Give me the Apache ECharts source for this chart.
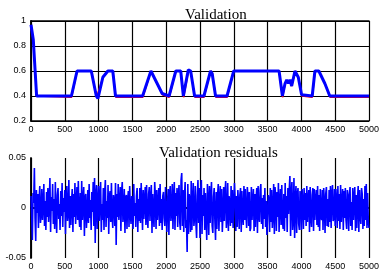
<!DOCTYPE html>
<html>
<head>
<meta charset="utf-8">
<script src="https://cdn.jsdelivr.net/npm/echarts@6/dist/echarts.min.js"></script>
<style>
  html, body { margin: 0; padding: 0; background: #fff; }
  #chart { width: 382px; height: 271px; }
</style>
</head>
<body>
<div id="chart"></div>
<script>
const measX = [0, 34, 59, 83, 100, 598, 681, 892, 966, 990, 1063, 1137, 1210, 1250, 1651, 1774, 1798, 1940, 2043, 2142, 2215, 2254, 2278, 2327, 2362, 2420, 2558, 2656, 2680, 2730, 2900, 2999, 3670, 3719, 3758, 3783, 3807, 3832, 3856, 3905, 3954, 4003, 4160, 4200, 4258, 4347, 4420, 5000];
const measY = [0.97, 0.85, 0.62, 0.40, 0.40, 0.40, 0.60, 0.60, 0.40, 0.38, 0.55, 0.60, 0.60, 0.40, 0.40, 0.60, 0.61, 0.42, 0.40, 0.60, 0.60, 0.40, 0.40, 0.61, 0.60, 0.40, 0.40, 0.60, 0.58, 0.40, 0.40, 0.60, 0.60, 0.40, 0.50, 0.53, 0.50, 0.53, 0.48, 0.60, 0.55, 0.41, 0.40, 0.60, 0.60, 0.50, 0.40, 0.40];

// model output (red)
const modelX = [0, 34, 59, 85, 105, 600, 683, 890, 970, 995, 1065, 1140, 1212, 1255, 1655, 1776, 1800, 1942, 2045, 2144, 2213, 2258, 2280, 2330, 2360, 2425, 2560, 2658, 2683, 2735, 2902, 3000, 3668, 3722, 3760, 3785, 3810, 3835, 3858, 3907, 3956, 4006, 4162, 4202, 4260, 4350, 4424, 5000];
const modelY = [0.95, 0.84, 0.62, 0.40, 0.39, 0.39, 0.60, 0.60, 0.39, 0.38, 0.55, 0.60, 0.60, 0.39, 0.39, 0.60, 0.60, 0.41, 0.39, 0.60, 0.60, 0.39, 0.39, 0.60, 0.60, 0.39, 0.39, 0.60, 0.58, 0.39, 0.39, 0.60, 0.60, 0.39, 0.50, 0.52, 0.50, 0.52, 0.48, 0.60, 0.55, 0.40, 0.39, 0.60, 0.60, 0.50, 0.39, 0.39];

// residuals in thousandths, one value every 10 samples
const residStep = 10;
const residMilli = [
  12, -8, -32, 15, 5, 40, -10, -33, 18, -5, 14, -20, 8, 22, -15, -6, 19, -12, 3, 24, -18, 7, -22, 16, -9,
  20, -14, 6, 30, -24, 11, -3, 24, -16, 9, -21, 26, -7, -25, 13, 20, -11, 4, -22, 17, -8, 25, -19, 10, -4,
  18, -26, 9, 22, -13, -5, 28, -20, 12, -17, 7, 19, -24, 14, -9, 25, -16, 3, 21, -12, 27, -8, -19, 15, -22,
  27, -12, 5, 21, -28, 10, 14, -20, -6, 18, -15, 24, -10, 8, -22, 16, -4, 26, -18, 30, -35, 12, 23, -21, 6,
  22, -13, 9, 26, -24, 4, -12, 20, -22, 15, 28, -19, 7, -10, 23, -26, 11, 17, -14, 25, -8, -20, 13, 6, -18,
  25, -37, 14, -9, 24, -12, 3, 21, -23, 16, 26, -14, -5, 19, -25, 10, 13, -21, 8, 17, -19, 22, -6, -16, 12,
  13, -21, 24, -8, 5, -19, 12, 20, -24, 9, -13, 20, -15, 25, 4, -22, 18, -11, 7, 21, -17, 23, -9, -20, 14,
  21, -13, 8, 23, -25, 14, -6, -19, 26, 11, -21, 18, -12, 3, 20, -18, 24, -15, 9, -22, 12, 16, -10, -18, 21,
  21, -24, 6, 19, -27, 14, 22, -13, -4, 24, -21, 10, 26, -22, 15, -8, 20, -19, 12, 23, -14, -22, 28, 35, -18,
  18, -24, 10, 26, -20, -12, -44, 24, -26, 14, 8, -24, 27, -22, 5, 25, -18, -9, 22, -16, -30, 12, 28, -15, 20,
  -30, 18, 28, -26, 13, -8, 20, -22, 15, -10, -32, 24, 6, -27, 22, -15, 9, 26, -18, -25, 11, 20, -12, -32, 16,
  -21, 12, 24, -23, 7, 22, -14, 19, -24, -6, 21, -13, 15, 27, -20, -9, 25, -23, 12, 5, -18, 22, -15, 18, -20,
  -20, 25, 8, -23, 12, -19, 18, 4, -21, 13, 20, -24, 17, -8, -17, 22, -12, 19, -6, -20, 21, 11, -18, 16, -23,
  -20, 21, -12, 6, 19, -23, 14, -19, 9, 20, -25, 22, -7, -14, 18, 24, -16, 10, -21, 13, -11, 20, -19, 7, -27,
  -27, 13, 8, -24, 20, -14, 18, -20, -5, 24, -26, 21, 11, -23, 16, -9, 25, -24, 6, 19, -17, 23, -13, -21, 14,
  -23, 25, -10, 12, -24, 20, -6, 18, 32, -28, 14, 26, -22, -12, 30, -30, 8, 22, -25, 13, 20, -16, -22, 17, 9,
  -22, 19, 6, -21, 20, -12, 15, -18, 22, -14, 9, 18, -24, 21, -8, -19, 13, 20, -23, 19, -12, 7, 18, -17, 22,
  -19, 13, -23, 19, -8, -12, 18, -22, 20, 6, -25, 14, 21, -18, 9, -19, 18, -14, 22, -20, 12, 23, -13, -9, 19,
  -18, 19, 8, -20, 22, -13, 14, -21, 23, -14, 5, 19, -22, 17, -10, 20, -12, -21, 18, 11, -23, 13, 21, -18, 6,
  -22, 20, -12, 10, 21, -23, 13, -20, 8, 22, -24, 18, -6, -16, 20, 14, -21, 9, -18, 22, -12, 24, -20, 15, -14,
  -20
];

const xTicks = { min: 0, max: 5000, interval: 500 };

const chart = echarts.init(document.getElementById('chart'));

const pairs = (xs, ys) => xs.map((x, i) => [x, ys[i]]);
const residData = residMilli.map((v, i) => [i * residStep, v / 1000]);

const axisText = { color: '#000', fontSize: 9, fontFamily: 'Liberation Sans, Arial, sans-serif' };
const frameLine = { show: true, lineStyle: { color: '#000', width: 1.5 } };
const gridLine = { show: true, lineStyle: { color: '#000', width: 1.2 } };

function xAxis(idx) {
  return {
    type: 'value', gridIndex: idx, min: xTicks.min, max: xTicks.max, interval: xTicks.interval,
    axisLine: frameLine, axisTick: { show: false }, splitLine: gridLine,
    axisLabel: Object.assign({ margin: 4, formatter: v => String(v) }, axisText)
  };
}
function xAxisTop(idx) {
  return {
    type: 'value', gridIndex: idx, position: 'top', min: xTicks.min, max: xTicks.max,
    axisLine: frameLine, axisTick: { show: false }, axisLabel: { show: false }, splitLine: { show: false }
  };
}

chart.setOption({
  animation: false,
  backgroundColor: '#fff',
  title: [
    { text: 'Validation', left: 180, top: 3, textStyle: { fontFamily: 'Liberation Serif, Times New Roman, serif', fontWeight: 'normal', fontSize: 15, color: '#000' } },
    { text: 'Validation residuals', left: 154, top: 141, textStyle: { fontFamily: 'Liberation Serif, Times New Roman, serif', fontWeight: 'normal', fontSize: 15, color: '#000' } }
  ],
  grid: [
    { left: 31, right: 11, top: 21, height: 100 },
    { left: 31, right: 11, top: 158, height: 101 }
  ],
  xAxis: [xAxis(0), xAxisTop(0), xAxis(1), xAxisTop(1)],
  yAxis: [
    { type: 'value', gridIndex: 0, min: 0.2, max: 1, interval: 0.2,
      axisLine: frameLine, axisTick: { show: false }, splitLine: gridLine,
      axisLabel: Object.assign({ margin: 5 }, axisText) },
    { type: 'value', gridIndex: 0, position: 'right', min: 0.2, max: 1,
      axisLine: frameLine, axisTick: { show: false }, axisLabel: { show: false }, splitLine: { show: false } },
    { type: 'value', gridIndex: 1, min: -0.05, max: 0.05, interval: 0.05,
      axisLine: frameLine, axisTick: { show: false }, splitLine: { show: false },
      axisLabel: Object.assign({ margin: 5 }, axisText) },
    { type: 'value', gridIndex: 1, position: 'right', min: -0.05, max: 0.05,
      axisLine: frameLine, axisTick: { show: false }, axisLabel: { show: false }, splitLine: { show: false } }
  ],
  series: [
    { type: 'line', xAxisIndex: 0, yAxisIndex: 0, data: pairs(modelX, modelY), showSymbol: false,
      lineStyle: { color: '#ff0000', width: 1.5 }, z: 3 },
    { type: 'line', xAxisIndex: 0, yAxisIndex: 0, data: pairs(measX, measY), showSymbol: false,
      lineStyle: { color: '#0000ff', width: 3 }, z: 4 },
    { type: 'line', xAxisIndex: 2, yAxisIndex: 2, data: residData, showSymbol: false,
      lineStyle: { color: '#0000ff', width: 1.6 }, z: 4 }
  ]
});
</script>
</body>
</html>
